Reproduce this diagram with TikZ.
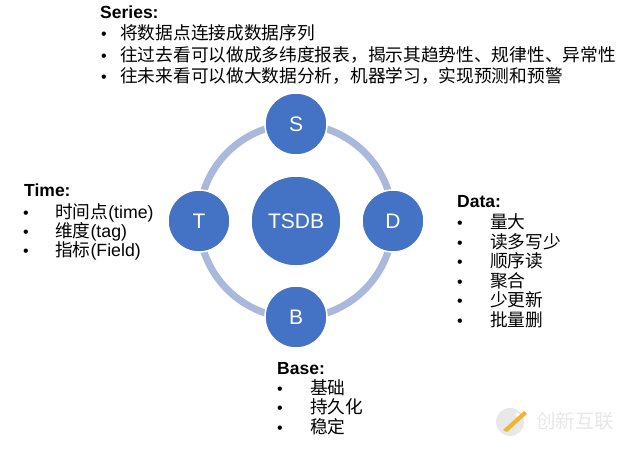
\documentclass[tikz,border=0pt]{standalone}
\usepackage{fontspec}
\setmainfont{Liberation Sans}
\newfontfamily\cjk{Noto Sans CJK SC}
\definecolor{cblue}{HTML}{4472C4}
\definecolor{cring}{HTML}{A9B8DB}
\definecolor{wmgray}{HTML}{E8E8E8}
\definecolor{wmorange}{HTML}{F3B431}
\tikzset{
  bigc/.style={circle,fill=cblue,draw=white,line width=1.5pt,minimum size=90pt,inner sep=0pt,text=white,font=\fontsize{21}{24}\selectfont},
  smallc/.style={circle,fill=cblue,draw=white,line width=1.5pt,minimum size=62pt,inner sep=0pt,text=white,font=\fontsize{21}{24}\selectfont},
  ttl/.style={anchor=west,inner sep=0pt,text height=15.4pt,text depth=2.1pt,font=\fontsize{17.5}{21}\selectfont\bfseries},
  itm/.style={anchor=west,inner sep=0pt,text height=15.4pt,text depth=2.1pt,font=\fontsize{17.7}{21}\selectfont},
  bul/.style={anchor=west,inner sep=0pt,text height=15.4pt,text depth=2.1pt,font=\fontsize{16}{18}\selectfont},
}
\begin{document}
\begin{tikzpicture}[x=1pt,y=-1pt]
\useasboundingbox[fill=white] (0,0) rectangle (629,452);
% ring
\draw[cring,line width=7pt] (296,221) circle (97);
\node[bigc] (tsdb) at (296,221) {TSDB};
\node[smallc] (s) at (296,124) {S};
\node[smallc] (t) at (199,221) {T};
\node[smallc] (d) at (393,221) {D};
\node[smallc] (b) at (296,317) {B};
% Series
\node[ttl] (st) at (100,12) {Series:};
\node[bul] (sb1) at (101,33) {•};
\node[itm] (s1) at (120,33) {\cjk 将数据点连接成数据序列};
\node[bul] (sb2) at (101,55) {•};
\node[itm] (s2) at (120,55) {\cjk 往过去看可以做成多纬度报表，揭示其趋势性、规律性、异常性};
\node[bul] (sb3) at (101,76) {•};
\node[itm] (s3) at (120,76) {\cjk 往未来看可以做大数据分析，机器学习，实现预测和预警};
% Time
\node[ttl] (tt) at (24,190) {Time:};
\node[bul] (tb1) at (23,211.5) {•};
\node[itm] (t1) at (55,211.5) {{\cjk 时间点}(time)};
\node[bul] (tb2) at (23,231) {•};
\node[itm] (t2) at (55,231) {{\cjk 维度}(tag)};
\node[bul] (tb3) at (23,250) {•};
\node[itm] (t3) at (55,250) {{\cjk 指标}(Field)};
% Data
\node[ttl] (dt) at (457,200.5) {Data:};
\node[bul] (db1) at (457,222) {•};
\node[itm] (d1) at (490,222) {\cjk 量大};
\node[bul] (db2) at (457,241.5) {•};
\node[itm] (d2) at (490,241.5) {\cjk 读多写少};
\node[bul] (db3) at (457,261) {•};
\node[itm] (d3) at (490,261) {\cjk 顺序读};
\node[bul] (db4) at (457,280.5) {•};
\node[itm] (d4) at (490,280.5) {\cjk 聚合};
\node[bul] (db5) at (457,300) {•};
\node[itm] (d5) at (490,300) {\cjk 少更新};
\node[bul] (db6) at (457,319.5) {•};
\node[itm] (d6) at (490,319.5) {\cjk 批量删};
% Base
\node[ttl] (bt) at (277,368) {Base:};
\node[bul] (bb1) at (277,387.5) {•};
\node[itm] (b1) at (310,387.5) {\cjk 基础};
\node[bul] (bb2) at (277,407) {•};
\node[itm] (b2) at (310,407) {\cjk 持久化};
\node[bul] (bb3) at (277,426.5) {•};
\node[itm] (b3) at (310,426.5) {\cjk 稳定};
% watermark
\fill[wmgray] (510,422) circle (14);
\draw[white,line width=3pt] (516,414) arc (-50:-310:-10);
\fill[wmorange] (503,430) -- (524,411) -- (527,414) -- (507,432) -- cycle;
\node[anchor=west,inner sep=0pt,text=wmgray,font=\fontsize{19.5}{22}\selectfont\cjk] (wm) at (536,421) {创新互联};
\end{tikzpicture}
\end{document}
